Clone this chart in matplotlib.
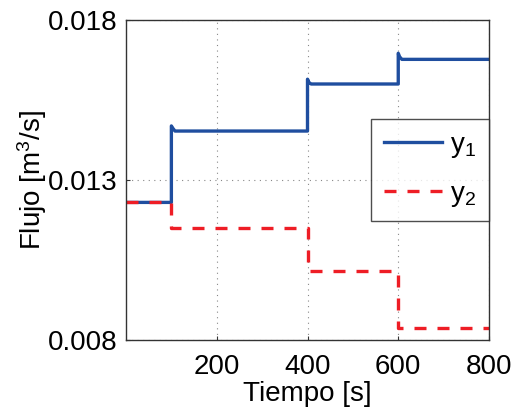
import matplotlib
matplotlib.use('Agg')
import matplotlib.pyplot as plt

plt.rcParams['font.family'] = ['Liberation Sans', 'DejaVu Sans']
plt.rcParams['mathtext.fontset'] = 'custom'
plt.rcParams['mathtext.rm'] = 'Liberation Sans'
plt.rcParams['mathtext.it'] = 'Liberation Sans'

# time [s] and flows [m3/s]
t1 = [0, 100, 100, 103, 108, 400, 400, 403, 408, 600, 600, 603, 608, 800]
y1 = [0.0123, 0.0123, 0.01469, 0.01462, 0.01453, 0.01453, 0.01615, 0.01605, 0.0160, 0.0160,
      0.01696, 0.01685, 0.01677, 0.01677]
t2 = [0, 100, 100, 400, 400, 600, 600, 800]
y2 = [0.0123, 0.0123, 0.0115, 0.0115, 0.01016, 0.01016, 0.00838, 0.00838]

xticks = [200, 400, 600, 800]
yticks = [0.008, 0.013, 0.018]
yticklabels = ['0.008', '0.013', '0.018']

fig = plt.figure(figsize=(5.14, 4.11), dpi=100)
ax = fig.add_axes([126 / 514, 1 - 340 / 411, (489 - 126) / 514, 320 / 411])

ax.plot(t1, y1, color='#1f4e9f', lw=2.4, label='y$_1$')
ax.plot(t2, y2, color='#ee1d25', lw=2.4, ls=(0, (3.6, 3.3)), label='y$_2$')

ax.set_xlim(0, 800)
ax.set_ylim(0.008, 0.018)
ax.set_xticks(xticks)
ax.set_yticks(yticks)
ax.set_yticklabels(yticklabels)
ax.tick_params(labelsize=20, direction='in', length=3, color='#333333')
ax.tick_params(axis='x', pad=10)
ax.tick_params(axis='y', pad=6)
ax.grid(True, ls=(0, (1, 4)), color='#888888', lw=0.8)
for s in ax.spines.values():
    s.set_color('#333333')
    s.set_linewidth(1.0)

ax.set_xlabel('Tiempo [s]', fontsize=20, labelpad=1)
ax.set_ylabel('Flujo [m$^3$/s]', fontsize=20, labelpad=-1)

leg = ax.legend(loc='upper right', bbox_to_anchor=(1.0, 0.69), fontsize=20, frameon=True,
                fancybox=False, edgecolor='#222222', handlelength=2.1, handletextpad=0.3,
                borderpad=0.45, labelspacing=0.75, borderaxespad=0)
leg.get_frame().set_linewidth(1.0)

fig.savefig('out.png', dpi=100)
